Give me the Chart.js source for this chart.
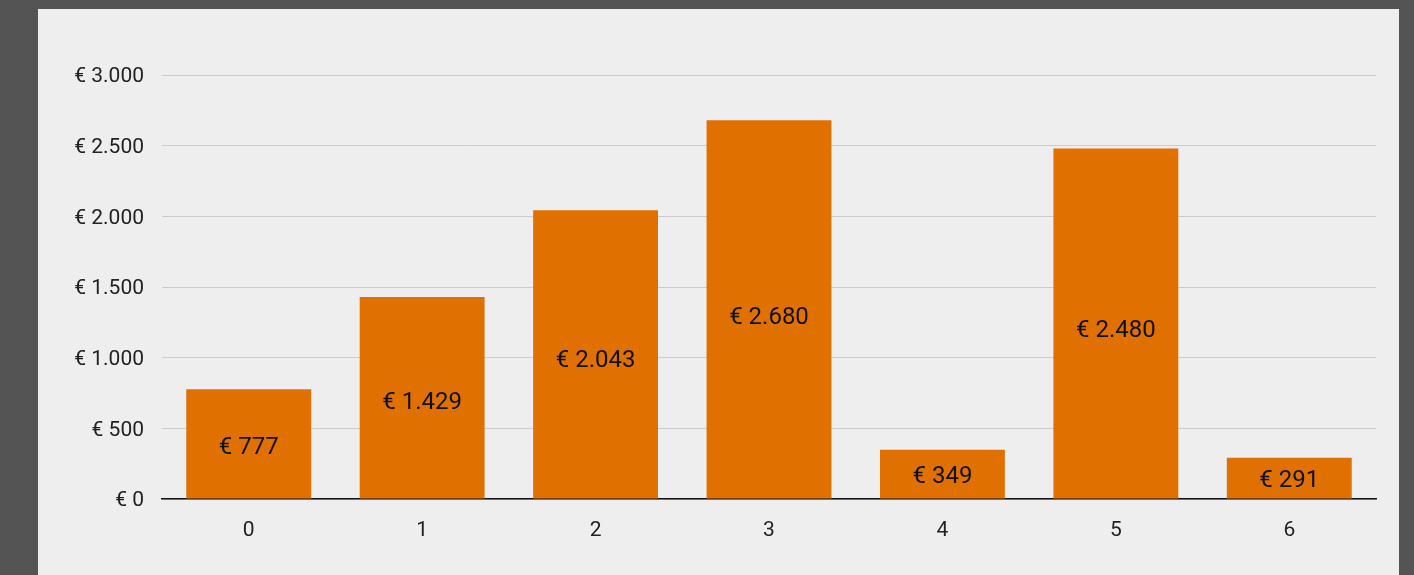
<!DOCTYPE html>
<html>
<head>
<meta charset="utf-8">
<script src="https://cdn.jsdelivr.net/npm/chart.js@4"></script>
<style>
  html, body { margin: 0; padding: 0; background: #545454; width: 1414px; height: 575px; overflow: hidden; }
  #panel { position: absolute; left: 38px; top: 9px; width: 1361px; height: 566px; background: #eeeeee; }
  canvas { display: block; }
</style>
</head>
<body>
<div id="panel"><canvas id="c" width="1361" height="566"></canvas></div>
<script>
const categories = ["0", "1", "2", "3", "4", "5", "6"];
const values = [777, 1429, 2043, 2680, 349, 2480, 291];
const yTicks = [0, 500, 1000, 1500, 2000, 2500, 3000];

const fmt = v => "€ " + Math.round(v).toString().replace(/\B(?=(\d{3})+(?!\d))/g, ".");

const labelPlugin = {
  id: "barLabels",
  afterDatasetsDraw(chart) {
    const ctx = chart.ctx;
    const meta = chart.getDatasetMeta(0);
    ctx.save();
    ctx.font = '24px Roboto, "Noto Sans", sans-serif';
    ctx.fillStyle = "#111111";
    ctx.textAlign = "center";
    ctx.textBaseline = "middle";
    meta.data.forEach((bar, i) => {
      const y = bar.base + (bar.y - bar.base) * 0.485;
      ctx.fillText(fmt(values[i]), bar.x, y + 2.5);
    });
    ctx.restore();
  }
};

new Chart(document.getElementById("c"), {
  type: "bar",
  data: {
    labels: categories,
    datasets: [{
      data: values,
      backgroundColor: "#e07000",
      borderWidth: 0,
      barPercentage: 0.9,
      categoryPercentage: 0.8
    }]
  },
  options: {
    responsive: false,
    animation: false,
    layout: { padding: { top: 66, right: 23, left: 0, bottom: 0 } },
    plugins: { legend: { display: false }, tooltip: { enabled: false } },
    scales: {
      x: {
        grid: { display: false, drawTicks: false },
        border: { color: "#111111", width: 1.5 },
        ticks: { color: "#222222", font: { family: "Roboto", size: 21 }, padding: 19 },
        afterFit: s => { s.height = 76; }
      },
      y: {
        min: 0,
        max: 3000,
        afterBuildTicks: s => { s.ticks = yTicks.map(v => ({ value: v })); },
        grid: { color: "#cccccc", lineWidth: 1, drawTicks: false },
        border: { display: false },
        ticks: { color: "#222222", font: { family: "Roboto", size: 21 }, padding: 18, labelOffset: 2, callback: v => fmt(v) },
        afterFit: s => { s.width = 124; }
      }
    }
  },
  plugins: [labelPlugin]
});
</script>
</body>
</html>
